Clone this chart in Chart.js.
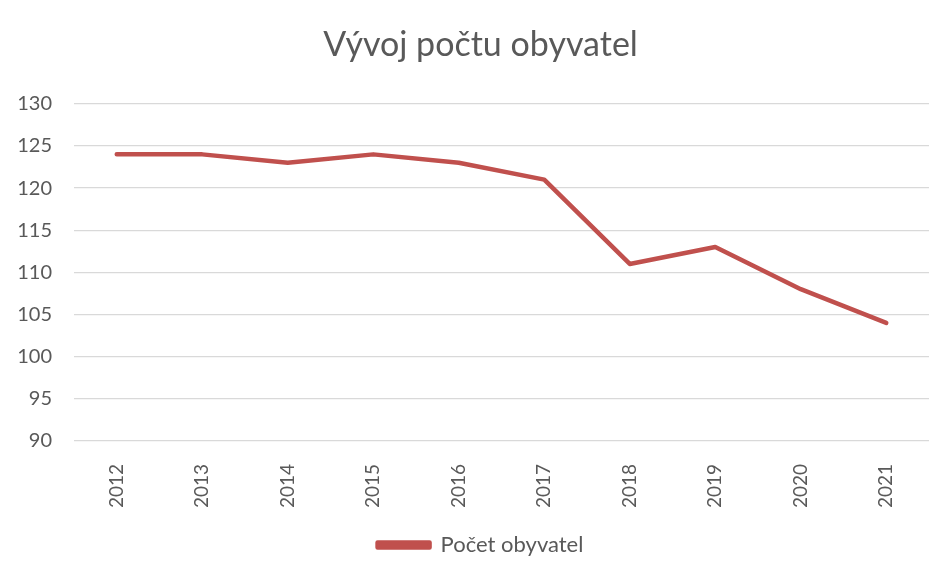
<!DOCTYPE html>
<html><head><meta charset="utf-8">
<script src="https://cdn.jsdelivr.net/npm/chart.js@4"></script>
<style>html,body{margin:0;padding:0;background:#fff}#w{width:947px;height:566px}</style>
</head><body><div id="w"><canvas id="c"></canvas></div>
<script>
const categories = ['2012','2013','2014','2015','2016','2017','2018','2019','2020','2021'];
const populace = [124,124,123,124,123,121,111,113,108,104];
const seriesName = 'Počet obyvatel';
const titleText = 'Vývoj počtu obyvatel';
const yMin = 90, yMax = 130, yStep = 5;
const FONT = 'Lato, "Open Sans", sans-serif';

new Chart(document.getElementById('c'), {
  type: 'line',
  data: { labels: categories, datasets: [{
    label: seriesName, data: populace,
    borderColor: '#C0504D', backgroundColor: '#C0504D',
    borderWidth: 4.5, pointRadius: 0, tension: 0, borderCapStyle: 'round', borderJoinStyle: 'round'
  }]},
  options: {
    responsive: true, maintainAspectRatio: false, animation: false,
    layout: { padding: { left: 14, right: 0, top: 10, bottom: 0 } },
    plugins: {
      title: { display: true, text: titleText, color: '#595959',
        font: { family: FONT, size: 34, weight: 'normal' },
        padding: { top: 15, bottom: 38 } },
      legend: { position: 'bottom',
        labels: { color: '#595959', boxWidth: 52, boxHeight: 5, padding: 10,
          font: { family: FONT, size: 22 } } },
      tooltip: { enabled: false }
    },
    scales: {
      x: { offset: true, grid: { display: false }, border: { display: false },
        afterFit: (axis) => { axis.height += 1; axis.paddingRight = 18; },
        ticks: { color: '#595959', minRotation: 90, maxRotation: 90, padding: 15,
          font: { family: FONT, size: 19 } } },
      y: { min: yMin, max: yMax, grid: { color: '#D9D9D9', lineWidth: 1.3, drawTicks: false },
        border: { display: false },
        afterFit: (axis) => { axis.width = 60; },
        ticks: { stepSize: yStep, color: '#595959', padding: 22,
          font: { family: FONT, size: 20 } } }
    }
  }
});
</script></body></html>
